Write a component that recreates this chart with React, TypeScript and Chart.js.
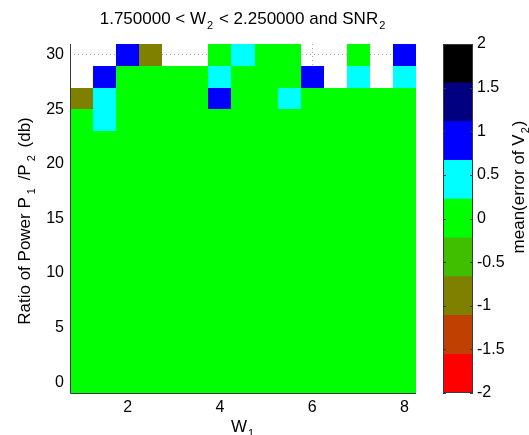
import { useEffect, useRef } from "react";
import { Chart, registerables } from "chart.js";

Chart.register(...registerables);

// ---- data ----
const W1 = [1, 1.5, 2, 2.5, 3, 3.5, 4, 4.5, 5, 5.5, 6, 6.5, 7, 7.5, 8];
const SNR2 = [0, 2, 4, 6, 8, 10, 12, 14, 16, 18, 20, 22, 24, 26, 28, 30];
// one row per SNR2 value (bottom to top), one column per W1 value; null = no data
const meanErrorV2: (number | null)[][] = [
  [0.05, 0.05, 0.05, 0.05, 0.05, 0.05, 0.05, 0.05, 0.05, 0.05, 0.05, 0.05, 0.05, 0.05, 0.05],
  [0.05, 0.05, 0.05, 0.05, 0.05, 0.05, 0.05, 0.05, 0.05, 0.05, 0.05, 0.05, 0.05, 0.05, 0.05],
  [0.05, 0.05, 0.05, 0.05, 0.05, 0.05, 0.05, 0.05, 0.05, 0.05, 0.05, 0.05, 0.05, 0.05, 0.05],
  [0.05, 0.05, 0.05, 0.05, 0.05, 0.05, 0.05, 0.05, 0.05, 0.05, 0.05, 0.05, 0.05, 0.05, 0.05],
  [0.05, 0.05, 0.05, 0.05, 0.05, 0.05, 0.05, 0.05, 0.05, 0.05, 0.05, 0.05, 0.05, 0.05, 0.05],
  [0.05, 0.05, 0.05, 0.05, 0.05, 0.05, 0.05, 0.05, 0.05, 0.05, 0.05, 0.05, 0.05, 0.05, 0.05],
  [0.05, 0.05, 0.05, 0.05, 0.05, 0.05, 0.05, 0.05, 0.05, 0.05, 0.05, 0.05, 0.05, 0.05, 0.05],
  [0.05, 0.05, 0.05, 0.05, 0.05, 0.05, 0.05, 0.05, 0.05, 0.05, 0.05, 0.05, 0.05, 0.05, 0.05],
  [0.05, 0.05, 0.05, 0.05, 0.05, 0.05, 0.05, 0.05, 0.05, 0.05, 0.05, 0.05, 0.05, 0.05, 0.05],
  [0.05, 0.05, 0.05, 0.05, 0.05, 0.05, 0.05, 0.05, 0.05, 0.05, 0.05, 0.05, 0.05, 0.05, 0.05],
  [0.05, 0.05, 0.05, 0.05, 0.05, 0.05, 0.05, 0.05, 0.05, 0.05, 0.05, 0.05, 0.05, 0.05, 0.05],
  [0.05, 0.05, 0.05, 0.05, 0.05, 0.05, 0.05, 0.05, 0.05, 0.05, 0.05, 0.05, 0.05, 0.05, 0.05],
  [0.05, 0.5, 0.05, 0.05, 0.05, 0.05, 0.05, 0.05, 0.05, 0.05, 0.05, 0.05, 0.05, 0.05, 0.05],
  [-0.9, 0.5, 0.05, 0.05, 0.05, 0.05, 0.9, 0.05, 0.05, 0.5, 0.05, 0.05, 0.05, 0.05, 0.05],
  [null, 0.9, 0.05, 0.05, 0.05, 0.05, 0.5, 0.05, 0.05, 0.05, 0.9, null, 0.5, null, 0.5],
  [null, null, 0.9, -0.9, null, null, 0.05, 0.5, 0.05, 0.05, null, null, 0.05, null, 0.9],
];
const xTicks = [2, 4, 6, 8];
const yTicks = [0, 5, 10, 15, 20, 25, 30];
const cbTicks = [-2, -1.5, -1, -0.5, 0, 0.5, 1, 1.5, 2];
const cbColors = [
  "#ff0000",
  "#bf4000",
  "#808000",
  "#40bf00",
  "#00ff00",
  "#00ffff",
  "#0000ff",
  "#000080",
  "#000000",
];
const cbMin = -2;
const cbMax = 2;

const FONT = '"Liberation Sans", Arial, Helvetica, sans-serif';
const TICK_SIZE = 16;
const LABEL_SIZE = 17;

type Part = { t: string; sub?: boolean };

function drawRich(
  ctx: CanvasRenderingContext2D,
  parts: Part[],
  x: number,
  y: number,
  size: number,
  rotate: boolean,
  subGap = 1
) {
  ctx.save();
  ctx.translate(x, y);
  if (rotate) ctx.rotate(-Math.PI / 2);
  const subSize = Math.round(size * 0.65);
  const widths = parts.map((p) => {
    ctx.font = `${p.sub ? subSize : size}px ${FONT}`;
    return ctx.measureText(p.t).width + (p.sub ? 2 * subGap : 0);
  });
  const total = widths.reduce((a, b) => a + b, 0);
  let cx = -total / 2;
  ctx.textAlign = "left";
  ctx.textBaseline = "alphabetic";
  ctx.fillStyle = "#000";
  parts.forEach((p, i) => {
    ctx.font = `${p.sub ? subSize : size}px ${FONT}`;
    ctx.fillText(p.t, cx + (p.sub ? subGap : 0), p.sub ? size * 0.3 : 0);
    cx += widths[i];
  });
  ctx.restore();
}

function colorFor(v: number) {
  const n = cbColors.length;
  let k = Math.floor(((v - cbMin) / (cbMax - cbMin)) * n);
  if (k < 0) k = 0;
  if (k > n - 1) k = n - 1;
  return cbColors[k];
}

const cellPlugin = {
  id: "cells",
  beforeDatasetsDraw(chart: any) {
    const { ctx } = chart;
    const xs = chart.scales.x;
    const ys = chart.scales.y;
    const hw = (W1[1] - W1[0]) / 2;
    const hh = (SNR2[1] - SNR2[0]) / 2;
    ctx.save();
    chart.data.datasets[0].data.forEach((p: any) => {
      const x0 = Math.round(xs.getPixelForValue(p.x - hw));
      const x1 = Math.round(xs.getPixelForValue(p.x + hw));
      const y0 = Math.round(ys.getPixelForValue(p.y + hh));
      const y1 = Math.round(ys.getPixelForValue(p.y - hh));
      ctx.fillStyle = colorFor(p.v);
      ctx.fillRect(x0, y0, x1 - x0, y1 - y0);
    });
    ctx.restore();
  },
  afterDatasetsDraw(chart: any) {
    const { ctx, chartArea } = chart;
    ctx.save();
    ctx.strokeStyle = "#3a3a3a";
    ctx.lineWidth = 1;
    ctx.beginPath();
    ctx.moveTo(chartArea.left + 0.5, chartArea.top);
    ctx.lineTo(chartArea.left + 0.5, chartArea.bottom + 0.5);
    ctx.lineTo(chartArea.right, chartArea.bottom + 0.5);
    ctx.stroke();
    ctx.restore();
  },
  afterDraw(chart: any) {
    const { ctx, chartArea } = chart;
    const cx = (chartArea.left + chartArea.right) / 2;
    drawRich(
      ctx,
      [{ t: "1.750000 < W" }, { t: "2", sub: true }, { t: " < 2.250000 and SNR" }, { t: "2", sub: true }],
      cx,
      24,
      LABEL_SIZE,
      false
    );
    drawRich(ctx, [{ t: "W" }, { t: "1", sub: true }], cx, 432, LABEL_SIZE, false);
    drawRich(
      ctx,
      [{ t: "Ratio of Power P" }, { t: "1", sub: true }, { t: " /P" }, { t: "2", sub: true }, { t: " (db)" }],
      30,
      221,
      LABEL_SIZE,
      true,
      3
    );
  },
};

const cbPlugin = {
  id: "cbextras",
  afterDatasetsDraw(chart: any) {
    const { ctx, chartArea } = chart;
    const ys = chart.scales.y;
    ctx.save();
    ctx.strokeStyle = "#3a3a3a";
    ctx.lineWidth = 1;
    ctx.strokeRect(
      chartArea.left + 0.5,
      chartArea.top + 0.5,
      chartArea.right - chartArea.left - 1,
      chartArea.bottom - chartArea.top - 1
    );
    ctx.beginPath();
    cbTicks.forEach((t) => {
      const py = Math.round(ys.getPixelForValue(t)) + 0.5;
      ctx.moveTo(chartArea.left, py);
      ctx.lineTo(chartArea.left + 3, py);
      ctx.moveTo(chartArea.right - 3, py);
      ctx.lineTo(chartArea.right, py);
    });
    ctx.stroke();
    ctx.restore();
  },
  afterDraw(chart: any) {
    const { ctx } = chart;
    drawRich(
      ctx,
      [{ t: "mean(error of V" }, { t: "2", sub: true }, { t: ")" }],
      99,
      187,
      LABEL_SIZE,
      true
    );
  },
};

export default function App() {
  const mainRef = useRef<HTMLCanvasElement>(null);
  const cbRef = useRef<HTMLCanvasElement>(null);

  useEffect(() => {
    const points: { x: number; y: number; v: number }[] = [];
    meanErrorV2.forEach((row, i) =>
      row.forEach((v, j) => {
        if (v !== null) points.push({ x: W1[j], y: SNR2[i], v });
      })
    );

    const main = new Chart(mainRef.current!, {
      type: "scatter",
      data: {
        datasets: [
          {
            data: points,
            pointRadius: 0,
            pointHoverRadius: 0,
          } as any,
        ],
      },
      options: {
        animation: false,
        responsive: false,
        events: [],
        layout: { padding: { left: 0, right: 24, top: 44, bottom: 0 } },
        plugins: { legend: { display: false }, tooltip: { enabled: false }, title: { display: false } },
        scales: {
          x: {
            type: "linear",
            min: W1[0] - (W1[1] - W1[0]) / 2,
            max: W1[W1.length - 1] + (W1[1] - W1[0]) / 2,
            afterBuildTicks: (s: any) => {
              s.ticks = xTicks.map((v) => ({ value: v }));
            },
            afterFit: (s: any) => {
              s.height = 42;
            },
            ticks: { color: "#000", font: { family: FONT, size: TICK_SIZE }, padding: 5, maxRotation: 0 },
            grid: { color: "#a8a8a8", drawTicks: false, lineWidth: 1 },
            border: { display: false, dash: [1, 3] },
          },
          y: {
            type: "linear",
            min: SNR2[0] - (SNR2[1] - SNR2[0]) / 2,
            max: SNR2[SNR2.length - 1] + (SNR2[1] - SNR2[0]) / 2,
            afterBuildTicks: (s: any) => {
              s.ticks = yTicks.map((v) => ({ value: v }));
            },
            afterFit: (s: any) => {
              s.width = 70;
            },
            ticks: { color: "#000", font: { family: FONT, size: TICK_SIZE }, padding: 6 },
            grid: { color: "#a8a8a8", drawTicks: false, lineWidth: 1 },
            border: { display: false, dash: [1, 3] },
          },
        },
      },
      plugins: [cellPlugin],
    });

    const cb = new Chart(cbRef.current!, {
      type: "bar",
      data: {
        labels: [""],
        datasets: cbColors.map((c, k) => ({
          data: [[cbMin + (k * (cbMax - cbMin)) / cbColors.length, cbMin + ((k + 1) * (cbMax - cbMin)) / cbColors.length]],
          backgroundColor: c,
          borderWidth: 0,
          grouped: false,
          barPercentage: 1,
          categoryPercentage: 1,
        })) as any,
      },
      options: {
        animation: false,
        responsive: false,
        events: [],
        layout: { padding: { left: 18, right: 0, top: 44, bottom: 42 } },
        plugins: { legend: { display: false }, tooltip: { enabled: false }, title: { display: false } },
        scales: {
          x: { display: false },
          y: {
            type: "linear",
            position: "right",
            min: cbMin,
            max: cbMax,
            afterBuildTicks: (s: any) => {
              s.ticks = cbTicks.map((v) => ({ value: v }));
            },
            afterFit: (s: any) => {
              s.width = 56;
            },
            ticks: {
              color: "#000",
              font: { family: FONT, size: TICK_SIZE },
              padding: 4,
              callback: (v: any) => String(v),
            },
            grid: { display: false, drawTicks: false },
            border: { display: false },
          },
        },
      },
      plugins: [cbPlugin],
    });

    return () => {
      main.destroy();
      cb.destroy();
    };
  }, []);

  return (
    <div style={{ position: "absolute", left: 0, top: 0, width: 529, height: 435, background: "#fff" }}>
      <canvas ref={mainRef} width={440} height={435} style={{ position: "absolute", left: 0, top: 0 }} />
      <canvas ref={cbRef} width={104} height={435} style={{ position: "absolute", left: 425, top: 0 }} />
    </div>
  );
}
